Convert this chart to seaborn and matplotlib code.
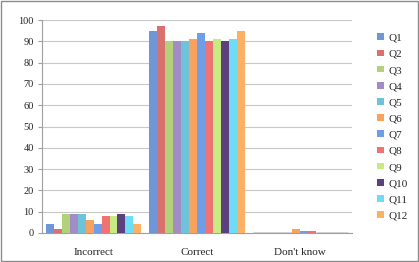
import matplotlib
matplotlib.use("Agg")
import matplotlib.pyplot as plt
import seaborn as sns
import pandas as pd
from matplotlib.patches import Rectangle, Patch

categories = ["Incorrect", "Correct", "Don't know"]
questions = ["Q1", "Q2", "Q3", "Q4", "Q5", "Q6", "Q7", "Q8", "Q9", "Q10", "Q11", "Q12"]
incorrect = [4, 2, 9, 9, 9, 6, 4, 8, 8, 9, 8, 4]
correct = [95, 97, 90, 90, 90, 91, 94, 90, 91, 90, 91, 95]
dont_know = [0, 0, 0, 0, 0, 2, 1, 1, 0, 0, 0, 0]
colors = ["#6f96d6", "#d9716e", "#b3d07a", "#a18cc4", "#6fc3d8", "#f8a25e",
          "#6f9ee8", "#ef7373", "#c8ea82", "#5c3f7d", "#6fdcf6", "#fbb063"]

rows = []
for q, a, b, c in zip(questions, incorrect, correct, dont_know):
    rows.append({"cat": categories[0], "q": q, "v": a})
    rows.append({"cat": categories[1], "q": q, "v": b})
    rows.append({"cat": categories[2], "q": q, "v": c})
df = pd.DataFrame(rows)

sns.set_style("white")
plt.rcParams["font.family"] = ["Liberation Serif", "DejaVu Serif"]

fig = plt.figure(figsize=(4.19, 2.62), dpi=100)
ax = fig.add_axes([42 / 419, 1 - 233 / 262, (352 - 42) / 419, (233 - 20) / 262])
sns.barplot(data=df, x="cat", y="v", hue="q", hue_order=questions, order=categories,
            palette=colors, width=0.92, ax=ax, legend=False, saturation=1,
            edgecolor="none")
for p in ax.patches:
    p.set_zorder(3)
    if p.get_height() == 0:
        p.set_edgecolor("#3a3a3a")
        p.set_linewidth(1.0)

ax.set_ylim(0, 100)
ax.set_xlim(-0.5, 2.5)
ax.set_yticks(range(0, 101, 10))
ax.yaxis.grid(True, color="#c8c8c8", linewidth=0.8, zorder=0)
ax.set_axisbelow(True)
ax.set_xlabel("")
ax.set_ylabel("")
for s in ["top", "right"]:
    ax.spines[s].set_visible(False)
ax.spines["left"].set_color("#a0a0a0")
ax.spines["bottom"].set_color("#a0a0a0")
ax.tick_params(axis="y", left=True, length=3, color="#a0a0a0", labelsize=7.5, pad=3)
ax.tick_params(axis="x", bottom=False, labelsize=8, pad=7)

handles = [Patch(facecolor=c, edgecolor="none") for c in colors]
fig.legend(handles, questions, loc="upper left", bbox_to_anchor=(373 / 419, 1 - 29 / 262),
           frameon=False, fontsize=8, handlelength=0.55, handleheight=0.55,
           labelspacing=0.62, handletextpad=0.4, borderaxespad=0)

fig.patches.append(Rectangle((0.002, 0.004), 0.995, 0.992, transform=fig.transFigure,
                             fill=False, edgecolor="#8c8c8c", linewidth=1))
fig.savefig("out.png", dpi=100)
